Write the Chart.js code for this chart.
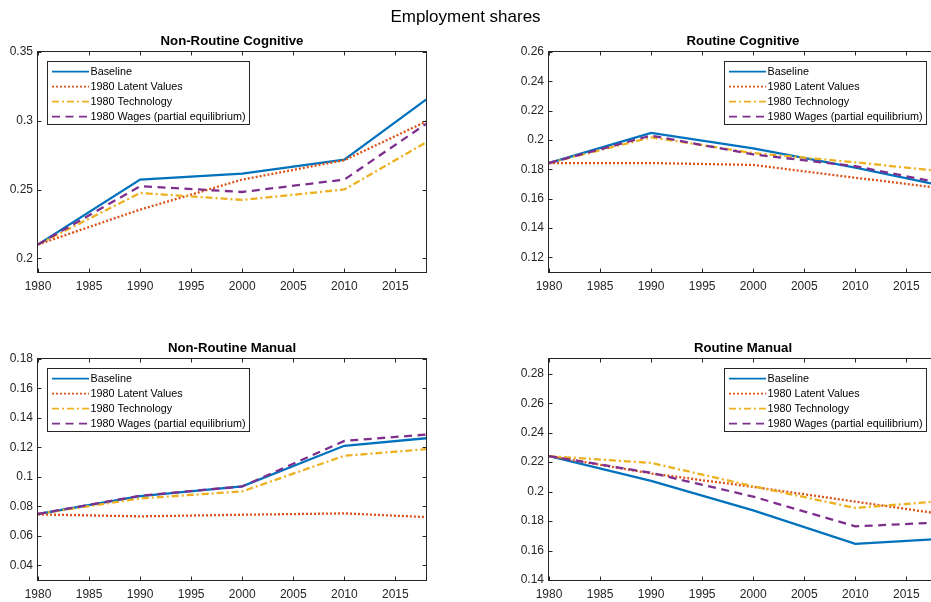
<!DOCTYPE html>
<html><head><meta charset="utf-8">
<script src="https://cdn.jsdelivr.net/npm/chart.js@4.4.1/dist/chart.umd.min.js"></script>
<style>
html,body{margin:0;padding:0;background:#fff;}
#wrap{position:relative;width:931px;height:602px;overflow:hidden;background:#fff;}
#title{position:absolute;left:0;width:931px;top:7px;text-align:center;font:17px 'Liberation Sans',Arial,sans-serif;color:#000;line-height:20px;}
canvas{position:absolute;}
</style></head><body>
<div id="wrap">
<canvas id="c1" width="470" height="305" style="left:0;top:0"></canvas>
<canvas id="c2" width="470" height="305" style="left:490px;top:0"></canvas>
<canvas id="c3" width="470" height="297" style="left:0;top:305px"></canvas>
<canvas id="c4" width="470" height="297" style="left:490px;top:305px"></canvas>
<div id="title">Employment shares</div>
</div>
<script>
// ---- data ----
const years = [1980, 1990, 2000, 2010, 2018];
const xTicks = [1980, 1985, 1990, 1995, 2000, 2005, 2010, 2015];
const seriesNames = ['Baseline', '1980 Latent Values', '1980 Technology', '1980 Wages (partial equilibrium)'];
const panelTitles = ['Non-Routine Cognitive', 'Routine Cognitive', 'Non-Routine Manual', 'Routine Manual'];

const nrcBaseline = [0.210, 0.2572, 0.2616, 0.2717, 0.3154];
const nrcLatent   = [0.210, 0.2354, 0.2572, 0.2713, 0.2994];
const nrcTech     = [0.210, 0.2475, 0.2424, 0.2500, 0.2843];
const nrcWages    = [0.210, 0.2524, 0.2482, 0.2572, 0.2977];
const nrcTicks    = [0.2, 0.25, 0.3, 0.35];

const rcBaseline = [0.1843, 0.2048, 0.1943, 0.1811, 0.1695];
const rcLatent   = [0.1843, 0.1843, 0.1830, 0.1743, 0.1675];
const rcTech     = [0.1843, 0.2018, 0.1911, 0.1848, 0.1790];
const rcWages    = [0.1843, 0.2030, 0.1902, 0.1821, 0.1712];
const rcTicks    = [0.12, 0.14, 0.16, 0.18, 0.2, 0.22, 0.24, 0.26];

const nrmBaseline = [0.0748, 0.0870, 0.0935, 0.1211, 0.1262];
const nrmLatent   = [0.0745, 0.0732, 0.0743, 0.0752, 0.0727];
const nrmTech     = [0.0748, 0.0854, 0.0901, 0.1143, 0.1188];
const nrmWages    = [0.0748, 0.0872, 0.0935, 0.1244, 0.1287];
const nrmTicks    = [0.04, 0.06, 0.08, 0.1, 0.12, 0.14, 0.16, 0.18];

const rmBaseline = [0.2241, 0.2073, 0.1873, 0.1645, 0.1678];
const rmLatent   = [0.2241, 0.2123, 0.2032, 0.1932, 0.1852];
const rmTech     = [0.2241, 0.2195, 0.2036, 0.1889, 0.1933];
const rmWages    = [0.2241, 0.2127, 0.1966, 0.1764, 0.1790];
const rmTicks    = [0.14, 0.16, 0.18, 0.2, 0.22, 0.24, 0.26, 0.28];

// ---- styles ----
const FONT = "'Liberation Sans', Arial, Helvetica, sans-serif";
const AXC = '#262626';
const seriesStyles = [
  {color:'#0072BD', dash:[]},
  {color:'#D95319', dash:[2,2]},
  {color:'#EDB120', dash:[7,3,2,3]},
  {color:'#7E2F8E', dash:[8,5.5]}
];

Chart.defaults.font.family = FONT;

const framePlugin = {
  id:'frame',
  afterDatasetsDraw(chart){
    const {ctx, chartArea:a, scales:{x,y}} = chart;
    ctx.save();
    ctx.strokeStyle = AXC; ctx.lineWidth = 1; ctx.setLineDash([]);
    const L=a.left-0.5, R=a.right+0.5, T=a.top-0.5, B=a.bottom+0.5;
    ctx.strokeRect(L,T,R-L,B-T);
    ctx.beginPath();
    x.ticks.forEach(t=>{const px=Math.round(x.getPixelForValue(t.value))+0.5; ctx.moveTo(px,B); ctx.lineTo(px,B-4); ctx.moveTo(px,T); ctx.lineTo(px,T+4);});
    y.ticks.forEach(t=>{const py=Math.round(y.getPixelForValue(t.value))+0.5; ctx.moveTo(L,py); ctx.lineTo(L+4,py); ctx.moveTo(R,py); ctx.lineTo(R-4,py);});
    ctx.stroke();
    ctx.restore();
  }
};

const panelTitlePlugin = {
  id:'panelTitle',
  afterDraw(chart, args, opts){
    const {ctx, chartArea:a} = chart;
    ctx.save();
    ctx.fillStyle = '#000';
    ctx.font = "bold 13.2px " + FONT;
    ctx.textAlign = 'center'; ctx.textBaseline = 'middle';
    ctx.fillText(opts.text, (a.left+a.right)/2, a.top - 10.5);
    ctx.restore();
  }
};

const boxLegendPlugin = {
  id:'boxLegend',
  afterDraw(chart, args, opts){
    const ctx = chart.ctx, a = chart.chartArea;
    const w = 202, h = 63, rowH = 15;
    const x0 = opts.side === 'right' ? a.right - 10 - w : a.left + 10;
    const y0 = a.top + 10;
    ctx.save();
    ctx.fillStyle = '#fff'; ctx.fillRect(x0, y0, w, h);
    ctx.strokeStyle = AXC; ctx.lineWidth = 1;
    ctx.strokeRect(Math.round(x0)-0.5, Math.round(y0)-0.5, w, h);
    chart.data.datasets.forEach((ds,i)=>{
      const y = y0 + 9.6 + i*rowH;
      ctx.beginPath();
      ctx.setLineDash(ds.borderDash || []);
      ctx.strokeStyle = ds.borderColor; ctx.lineWidth = 1.7;
      ctx.moveTo(x0+4, y); ctx.lineTo(x0+41, y); ctx.stroke();
      ctx.setLineDash([]);
      ctx.fillStyle = '#000';
      ctx.font = "10.8px " + FONT;
      ctx.textBaseline = 'middle'; ctx.textAlign = 'left';
      ctx.fillText(ds.label, x0+42.5, y);
    });
    ctx.restore();
  }
};

function fmt(v){ return String(parseFloat(v.toFixed(4))); }

function makePanel(id, title, seriesArr, yMin, yMax, yTicks, side, pad){
  const datasets = seriesArr.map((vals,i)=>({
    label: seriesNames[i],
    data: years.map((yr,k)=>({x:yr, y:vals[k]})),
    borderColor: seriesStyles[i].color,
    borderDash: seriesStyles[i].dash,
    borderWidth: 2.3,
    pointRadius: 0,
    tension: 0,
    fill: false,
    order: seriesArr.length - i
  }));
  new Chart(document.getElementById(id), {
    type:'line',
    data:{datasets},
    plugins:[framePlugin, panelTitlePlugin, boxLegendPlugin],
    options:{
      responsive:false,
      animation:false,
      devicePixelRatio:1,
      layout:{padding:pad},
      plugins:{
        legend:{display:false},
        title:{display:false},
        tooltip:{enabled:false},
        panelTitle:{text:title},
        boxLegend:{side:side}
      },
      scales:{
        x:{
          type:'linear', min:1980, max:2018,
          afterBuildTicks:s=>{ s.ticks = xTicks.map(v=>({value:v})); },
          afterFit:s=>{ s.height = 22; },
          grid:{display:false, drawTicks:false},
          border:{display:false},
          ticks:{callback:v=>String(v), color:AXC, font:{size:12}, padding:7, maxRotation:0, autoSkip:false}
        },
        y:{
          type:'linear', min:yMin, max:yMax,
          afterBuildTicks:s=>{ s.ticks = yTicks.map(v=>({value:v})); },
          afterFit:s=>{ s.width = 38; },
          grid:{display:false, drawTicks:false},
          border:{display:false},
          ticks:{callback:v=>fmt(v), color:AXC, font:{size:12}, padding:5, autoSkip:false}
        }
      }
    }
  });
}

makePanel('c1', panelTitles[0], [nrcBaseline, nrcLatent, nrcTech, nrcWages], 0.19, 0.35, nrcTicks, 'left',  {left:0,  right:44, top:52, bottom:11});
makePanel('c2', panelTitles[1], [rcBaseline, rcLatent, rcTech, rcWages],     0.11, 0.26, rcTicks,  'right', {left:21, right:23, top:52, bottom:11});
makePanel('c3', panelTitles[2], [nrmBaseline, nrmLatent, nrmTech, nrmWages], 0.03, 0.18, nrmTicks, 'left',  {left:0,  right:44, top:54, bottom:0});
makePanel('c4', panelTitles[3], [rmBaseline, rmLatent, rmTech, rmWages],     0.14, 0.29, rmTicks,  'right', {left:21, right:23, top:54, bottom:0});
</script>
</body></html>
